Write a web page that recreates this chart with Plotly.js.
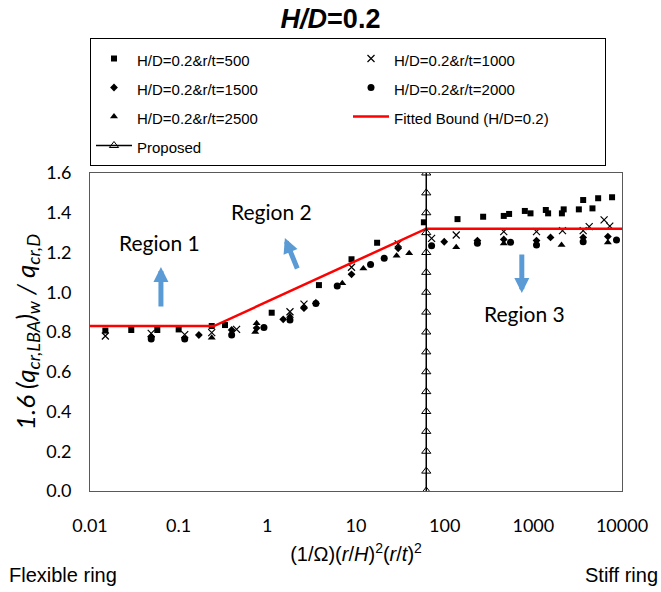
<!DOCTYPE html>
<html>
<head>
<meta charset="utf-8">
<script src="https://cdn.plot.ly/plotly-3.0.1.min.js"></script>
<style>html,body{margin:0;padding:0;background:#fff;}#chart{width:661px;height:592px;}</style>
</head>
<body>
<div id="chart"></div>
<script>
// r/t = 500 (squares)
const rt500_x = [0.0149, 0.0292, 0.0574, 0.1, 0.236, 0.333, 1.12, 3.82, 8.9, 17.3, 58.3, 139.6, 271.6, 464, 533, 802, 929, 1383, 1468, 2100, 2200, 3260, 3648, 4645, 5383, 7726];
const rt500_y = [0.807, 0.81, 0.81, 0.813, 0.83, 0.835, 0.897, 1.036, 1.166, 1.249, 1.352, 1.368, 1.38, 1.384, 1.394, 1.409, 1.397, 1.414, 1.397, 1.397, 1.417, 1.417, 1.464, 1.422, 1.473, 1.478];
// r/t = 1000 (crosses)
const rt1000_x = [0.0149, 0.049, 0.117, 0.236, 0.45, 1.8, 2.59, 8.9, 29.9, 71.2, 135, 464, 1086, 2133, 3648, 4266, 6280, 7279];
const rt1000_y = [0.78, 0.793, 0.787, 0.797, 0.813, 0.902, 0.94, 1.126, 1.243, 1.271, 1.288, 1.305, 1.305, 1.31, 1.31, 1.33, 1.364, 1.333];
// r/t = 1500 (small diamonds)
const rt1500_x = [0.049, 0.169, 0.396, 0.757, 1.51, 2.59, 8.9, 29.9, 98.9, 234, 464, 1086, 1563, 3648, 6930];
const rt1500_y = [0.775, 0.785, 0.81, 0.82, 0.864, 0.92, 1.09, 1.221, 1.254, 1.26, 1.266, 1.26, 1.276, 1.276, 1.28];
// r/t = 2000 (circles)
const rt2000_x = [0.049, 0.117, 0.396, 0.916, 1.8, 3.53, 6.14, 14.6, 20.8, 71.2, 234, 553, 1086, 3648, 8670];
const rt2000_y = [0.765, 0.765, 0.785, 0.823, 0.86, 0.944, 1.031, 1.14, 1.171, 1.234, 1.246, 1.251, 1.238, 1.254, 1.263];
// r/t = 2500 (triangles)
const rt2500_x = [0.236, 0.73, 0.757, 1.8, 3.53, 7.0, 12.1, 28.7, 39.8, 135, 464, 2081, 6930];
const rt2500_y = [0.771, 0.80, 0.844, 0.88, 0.95, 1.045, 1.12, 1.184, 1.196, 1.226, 1.245, 1.238, 1.25];
// Fitted bound (H/D = 0.2)
const fit_x = [0.01, 0.25, 62, 10000];
const fit_y = [0.83, 0.83, 1.32, 1.32];
// Proposed boundary
const prop_x = [62, 62, 62, 62, 62, 62, 62, 62, 62, 62, 62, 62, 62, 62, 62, 62, 62];
const prop_y = [0.0, 0.1, 0.2, 0.3, 0.4, 0.5, 0.6, 0.7, 0.8, 0.9, 1.0, 1.1, 1.2, 1.3, 1.4, 1.5, 1.6];
// Axis ticks
const xTickVals = [0.01, 0.1, 1, 10, 100, 1000, 10000];
const xTickText = ["0.01", "0.1", "1", "10", "100", "1000", "10000"];
const yTickVals = [0, 0.2, 0.4, 0.6, 0.8, 1.0, 1.2, 1.4, 1.6];
const yTickText = ["0.0", "0.2", "0.4", "0.6", "0.8", "1.0", "1.2", "1.4", "1.6"];
// Legend names
const names = ["H/D=0.2&r/t=500", "H/D=0.2&r/t=1000", "H/D=0.2&r/t=1500", "H/D=0.2&r/t=2000",
               "H/D=0.2&r/t=2500", "Fitted Bound (H/D=0.2)", "Proposed"];

const ARIAL = "Liberation Sans, Arial, sans-serif";
const CAL = "Lato, Carlito, Calibri, sans-serif";

function lg(s) { return '<span style="font-size:15px">' + s.replace(/&/g, "&amp;") + '</span>'; }

function sc(name, x, y, symbol, size, line) {
  return {
    type: "scatter", mode: "markers", name: lg(name), x: x, y: y,
    marker: {symbol: symbol, size: size, color: "#000000", line: line || {width: 0}}
  };
}

const traces = [
  sc(names[0], rt500_x, rt500_y, "square", 6),
  sc(names[1], rt1000_x, rt1000_y, "x-thin", 7, {width: 1.2, color: "#000"}),
  sc(names[2], rt1500_x, rt1500_y, "diamond", 6),
  sc(names[3], rt2000_x, rt2000_y, "circle", 7),
  sc(names[4], rt2500_x, rt2500_y, "triangle-up", 7),
  {type: "scatter", mode: "lines", name: lg(names[5]), x: fit_x, y: fit_y,
   line: {color: "#FF0000", width: 2.5}},
  {type: "scatter", mode: "lines+markers", name: lg(names[6]), x: prop_x, y: prop_y,
   line: {color: "#000000", width: 1.5},
   marker: {symbol: "triangle-up-open", size: 8, color: "#000000", line: {width: 1, color: "#000"}}}
];

const arrowC = "#5B9BD5";
const layout = {
  width: 661, height: 592,
  paper_bgcolor: "#ffffff", plot_bgcolor: "#ffffff",
  margin: {l: 90, r: 39, t: 173, b: 101, autoexpand: false},
  title: {text: "<b><i>H/D</i>=0.2</b>", font: {family: ARIAL, size: 27, color: "#000"},
          x: 0.5, xref: "container", y: 1 - 19/592, yref: "container", yanchor: "middle"},
  showlegend: true,
  legend: {orientation: "h", x: 0, xanchor: "left", y: (491 - 38) / 318, yanchor: "top",
           bgcolor: "#ffffff", bordercolor: "#000000", borderwidth: 1,
           entrywidth: 206, entrywidthmode: "pixels",
           font: {family: ARIAL, size: 20, color: "#000"}, itemwidth: 36, traceorder: "normal"},
  xaxis: {type: "log", range: [-2, 4], tickvals: xTickVals, ticktext: xTickText,
          showgrid: false, zeroline: false, showline: true, linecolor: "#595959", linewidth: 1,
          mirror: true, ticks: "", ticklabelstandoff: 18,
          tickfont: {family: CAL, size: 18, color: "#000"},
          title: {text: "(1/Ω)(<i>r</i>/<i>H</i>)<sup>2</sup>(<i>r</i>/<i>t</i>)<sup>2</sup>",
                  font: {family: ARIAL, size: 20, color: "#000"}, standoff: 12}},
  yaxis: {range: [0, 1.6], tickvals: yTickVals, ticktext: yTickText,
          showgrid: false, zeroline: false, showline: true, linecolor: "#595959", linewidth: 1,
          mirror: true, ticks: "", ticklabelstandoff: 14,
          tickfont: {family: CAL, size: 18, color: "#000"},
          title: {text: "<i>1.6 (q<sub>cr,LBA</sub>)<sub>w</sub> / q<sub>cr,D</sub></i>",
                  font: {family: CAL, size: 26, color: "#000"}, standoff: 3}},
  annotations: [
    {text: "Region 1", x: -1.211, y: 1.248, xref: "x", yref: "y", showarrow: false,
     font: {family: CAL, size: 21, color: "#000"}},
    {text: "Region 2", x: 0.052, y: 1.404, xref: "x", yref: "y", showarrow: false,
     font: {family: CAL, size: 21, color: "#000"}},
    {text: "Region 3", x: 2.904, y: 0.891, xref: "x", yref: "y", showarrow: false,
     font: {family: CAL, size: 21, color: "#000"}},
    {text: "", x: -1.2, y: 1.127, xref: "x", yref: "y", showarrow: true, ax: 0, ay: 41,
     arrowcolor: arrowC, arrowwidth: 5, arrowhead: 2, arrowsize: 0.6},
    {text: "", x: 0.198, y: 1.273, xref: "x", yref: "y", showarrow: true, ax: 13, ay: 32,
     arrowcolor: arrowC, arrowwidth: 5, arrowhead: 2, arrowsize: 0.6},
    {text: "", x: 2.870, y: 0.996, xref: "x", yref: "y", showarrow: true, ax: 0, ay: -40,
     arrowcolor: arrowC, arrowwidth: 5, arrowhead: 2, arrowsize: 0.6},
    {text: "Flexible ring", xref: "paper", yref: "paper", x: (7 - 90)/532, y: (491 - 575)/318,
     xanchor: "left", yanchor: "middle", showarrow: false, font: {family: ARIAL, size: 20, color: "#000"}},
    {text: "Stiff ring", xref: "paper", yref: "paper", x: (660 - 90)/532, y: (491 - 575)/318,
     xanchor: "right", yanchor: "middle", showarrow: false, font: {family: ARIAL, size: 20, color: "#000"}}
  ]
};

Plotly.newPlot("chart", traces, layout, {displayModeBar: false, staticPlot: true});
</script>
</body>
</html>
